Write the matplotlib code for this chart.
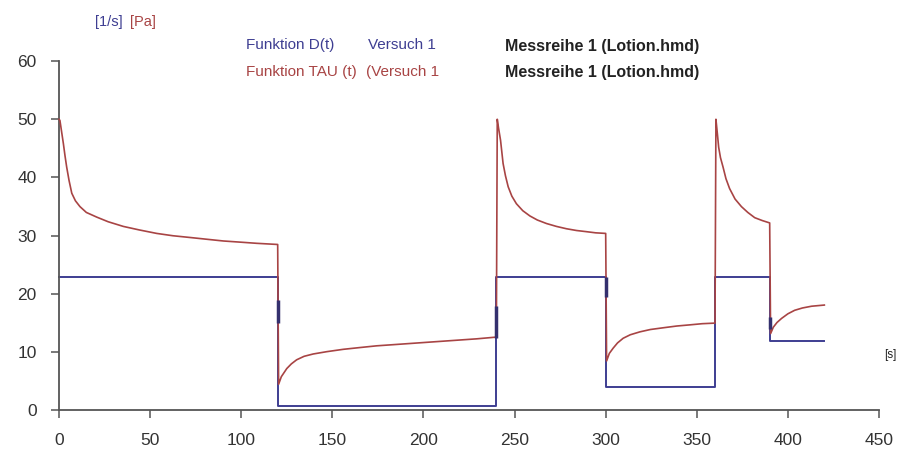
import matplotlib
matplotlib.use("Agg")
import matplotlib.pyplot as plt
from matplotlib import font_manager

# ---- data ----
d_t = [0, 120, 120, 240, 240, 300, 300, 360, 360, 390, 390, 420]
d_v = [23, 23, 0.8, 0.8, 23, 23, 4, 4, 23, 23, 12, 12]

tau_t = [0, 0.5, 1.4, 2.4, 3.3, 4.2, 5.5, 7, 9, 11.5, 15, 20.7, 27, 35.3, 44, 53.6,
         62.5, 71.9, 81, 90.2, 99.5, 108.5, 120,
         120.5, 122, 125, 127.5, 130.4, 134.5, 139.5, 147, 156, 165, 174.3, 183.5,
         192.6, 201.7, 210.9, 220, 229.2, 240,
         240.5, 241.2, 242.3, 243.7, 245, 246.5, 248.5, 251, 254.5, 258.4, 262.5,
         267.5, 273, 278.5, 284, 289.4, 294.5, 300,
         300.5, 302, 304.1, 306.5, 309.6, 313.5, 318.8, 324.5, 331.6, 339, 346.2,
         353, 360,
         360.5, 361.3, 362, 363, 364.4, 366, 368, 371, 374.5, 378, 381.8, 386, 390,
         390.5, 392, 394, 396.5, 400, 403.7, 408, 413, 420]
tau_v = [50, 49.8, 47.9, 45.8, 43.7, 41.8, 39.5, 37.3, 36.0, 35.0, 34.0, 33.2, 32.4,
         31.6, 31.0, 30.4, 30.0, 29.7, 29.4, 29.1, 28.9, 28.7, 28.5,
         4.5, 5.8, 7.2, 8.0, 8.7, 9.3, 9.7, 10.1, 10.5, 10.8, 11.1, 11.3,
         11.5, 11.7, 11.9, 12.1, 12.3, 12.6,
         50, 48.5, 46.4, 42.4, 40.3, 38.4, 36.8, 35.5, 34.3, 33.4, 32.7,
         32.1, 31.6, 31.2, 30.9, 30.7, 30.5, 30.4,
         8.5, 9.8, 10.7, 11.6, 12.4, 13.0, 13.5, 13.9, 14.2, 14.5, 14.7,
         14.9, 15.0,
         50, 47.5, 45.2, 43.4, 41.8, 39.8, 38.1, 36.3, 35.0, 34.0, 33.1, 32.6, 32.2,
         13.2, 14.3, 15.1, 15.8, 16.6, 17.2, 17.6, 17.9, 18.1]

mark_t = [120, 240, 300, 390]
mark_lo = [15, 12.5, 19.5, 14]
mark_hi = [19, 18, 23, 16]

x_ticks = [0, 50, 100, 150, 200, 250, 300, 350, 400, 450]
y_ticks = [0, 10, 20, 30, 40, 50, 60]

BLUE = "#3e3e92"
RED = "#a84444"
FONT = ["Liberation Sans", "DejaVu Sans"]
plt.rcParams["font.family"] = FONT
names = {f.name for f in font_manager.fontManager.ttflist}
TICKFONT = ["Liberation Sans Narrow", "Liberation Sans", "DejaVu Sans"]
tick_size = 14 if "Liberation Sans Narrow" in names else 12.5

fig = plt.figure(figsize=(9.01, 4.57), dpi=100)
ax = fig.add_axes([0.0655, 0.1018, 0.9101, 0.7647])

ax.plot(d_t, d_v, color=BLUE, lw=1.4, clip_on=False, zorder=2)
ax.plot(tau_t, tau_v, color=RED, lw=1.2, clip_on=False, zorder=3)
ax.vlines(mark_t, mark_lo, mark_hi, color="#34306e", lw=2.5, zorder=4)

ax.set_xlim(0, 450)
ax.set_ylim(0, 60)
ax.set_xticks(x_ticks)
ax.set_yticks(y_ticks)
for s in ["top", "right"]:
    ax.spines[s].set_visible(False)
for s in ["left", "bottom"]:
    ax.spines[s].set_color("#555555")
    ax.spines[s].set_linewidth(1.3)
ax.tick_params(axis="both", direction="out", length=6, width=1.1, color="#555555",
               labelcolor="#333333")
ax.tick_params(axis="x", pad=10)
ax.tick_params(axis="y", pad=10)
for lab in ax.get_xticklabels() + ax.get_yticklabels():
    lab.set_family(TICKFONT)
    lab.set_fontsize(tick_size)

fig.text(95 / 901, 1 - 22 / 457, "[1/s]", color=BLUE, fontsize=10.5, va="center", ha="left")
fig.text(130 / 901, 1 - 22 / 457, "[Pa]", color=RED, fontsize=10.5, va="center", ha="left")
fig.text(246 / 901, 1 - 45 / 457, "Funktion D(t)", color=BLUE, fontsize=11,
         va="center", ha="left")
fig.text(368 / 901, 1 - 45 / 457, "Versuch 1", color=BLUE, fontsize=11,
         va="center", ha="left")
fig.text(246 / 901, 1 - 72 / 457, "Funktion TAU (t)", color=RED, fontsize=11,
         va="center", ha="left")
fig.text(366 / 901, 1 - 72 / 457, "(Versuch 1", color=RED, fontsize=11,
         va="center", ha="left")
fig.text(505 / 901, 1 - 47 / 457, "Messreihe 1 (Lotion.hmd)", color="#222222", fontsize=11.5,
         fontweight="bold", va="center", ha="left")
fig.text(505 / 901, 1 - 72 / 457, "Messreihe 1 (Lotion.hmd)", color="#222222", fontsize=11.5,
         fontweight="bold", va="center", ha="left")
fig.text(884 / 901, 1 - 355 / 457, "[s]", color="#222222", fontsize=8.5, va="center", ha="left")

fig.savefig("out.png", dpi=100)
